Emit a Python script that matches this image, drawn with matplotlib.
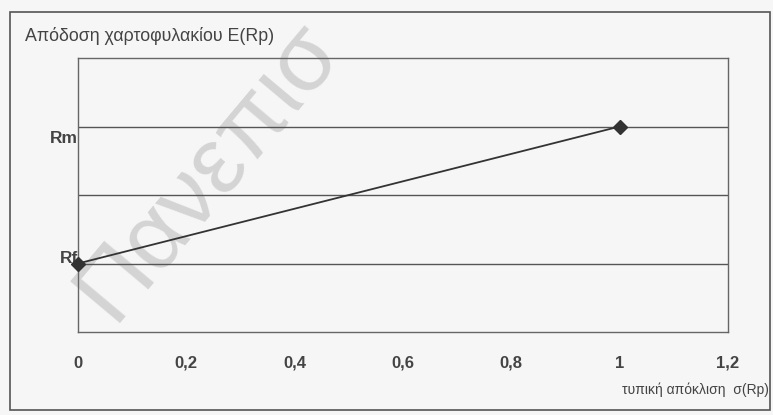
import numpy as np
import matplotlib.pyplot as plt
import matplotlib.transforms as mtransforms
from matplotlib.patches import Rectangle

# data: capital market line from the risk-free asset to the market portfolio
sigma = [0, 1]
returns = [1, 3]
x_ticks = [0, 0.2, 0.4, 0.6, 0.8, 1, 1.2]
y_ticks = [1, 3]
y_tick_labels = ['Rf', 'Rm']
y_grid = [1, 2, 3]

plt.rcParams['font.family'] = ['Liberation Sans', 'DejaVu Sans']

fig = plt.figure(figsize=(7.73, 4.15), dpi=100)
fig.patch.set_facecolor('#f6f6f6')

# outer border of the chart
fig.patches.append(Rectangle((10/773, 5/415), 760/773, 398/415, transform=fig.transFigure,
                             fill=False, edgecolor='#555555', linewidth=1.2))

ax = fig.add_axes([78/773, 83/415, 650/773, 274/415])
ax.set_facecolor('none')

# horizontal gridlines
for g in y_grid:
    ax.axhline(g, color='#555555', linewidth=1)

ax.plot(sigma, returns, color='#333333', linewidth=1.3, marker='D', markersize=7,
        markerfacecolor='#333333', clip_on=False, zorder=3)

ax.set_xlim(0, 1.2)
ax.set_ylim(0, 4)
ax.set_xticks(x_ticks)
ax.set_xticklabels([f'{v:g}'.replace('.', ',') for v in x_ticks])
ax.set_yticks(y_ticks)
ax.set_yticklabels(y_tick_labels)
ax.tick_params(length=0, labelcolor='#444444')
ax.tick_params(axis='x', pad=17, labelsize=12)
ax.tick_params(axis='y', pad=0, labelsize=12.5)
for lab in ax.get_xticklabels() + ax.get_yticklabels():
    lab.set_fontweight('bold')

# nudge the y labels like in the original (Rm sits below its line, Rf above)
ylabs = ax.get_yticklabels()
ylabs[0].set_transform(ylabs[0].get_transform() + mtransforms.ScaledTranslation(0, 7/100, fig.dpi_scale_trans))
ylabs[1].set_transform(ylabs[1].get_transform() + mtransforms.ScaledTranslation(0, -10/100, fig.dpi_scale_trans))

for s in ax.spines.values():
    s.set_color('#666666')
    s.set_linewidth(1)

fig.text(25/773, 1 - 36/415, 'Απόδοση χαρτοφυλακίου E(Rp)', fontsize=12.8,
         color='#444444', va='center', ha='left')
fig.text(769/773, 1 - 390/415, 'τυπική απόκλιση  σ(Rp)', fontsize=10,
         color='#444444', va='center', ha='right')

# faint watermark of the scan, behind the plot lines
fig.text(112/773, 1 - 323/415, 'Πανεπισ', fontsize=68, rotation=50,
         rotation_mode='anchor', color='#d4d4d4', ha='left', va='baseline', zorder=-1)

plt.savefig('out.png', dpi=100, facecolor=fig.get_facecolor())
